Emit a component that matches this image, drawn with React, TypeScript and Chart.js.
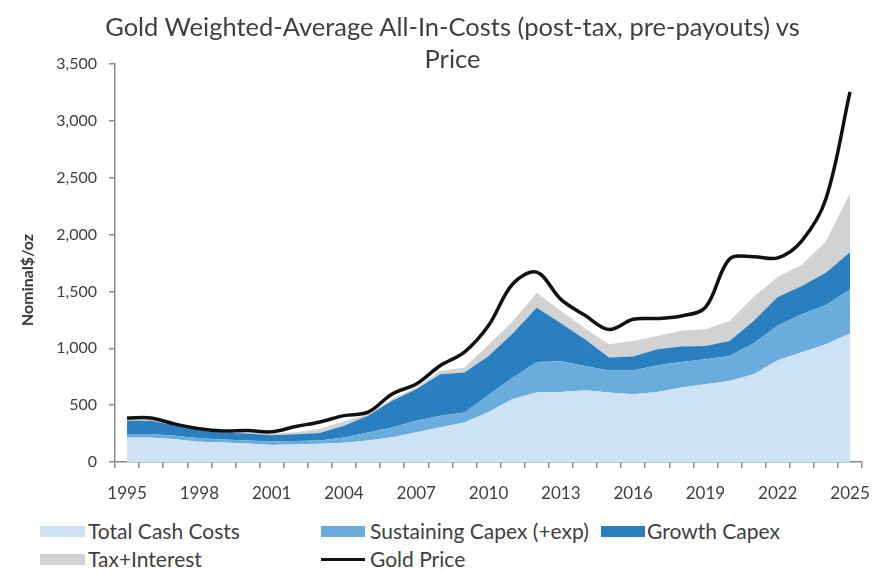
import React, { useEffect, useRef } from "react";
import { Chart, registerables } from "chart.js";

Chart.register(...registerables);

const years = [
  "1995", "1996", "1997", "1998", "1999", "2000", "2001", "2002", "2003", "2004",
  "2005", "2006", "2007", "2008", "2009", "2010", "2011", "2012", "2013", "2014",
  "2015", "2016", "2017", "2018", "2019", "2020", "2021", "2022", "2023", "2024", "2025",
];

const totalCashCosts = [216, 216, 200, 178, 172, 162, 150, 155, 160, 170, 190, 218, 262, 305, 348, 440, 553, 611, 615, 632, 611, 596, 615, 655, 684, 713, 772, 895, 965, 1035, 1130];
const sustainingCapex = [30, 30, 30, 30, 26, 28, 30, 30, 30, 46, 70, 86, 101, 101, 88, 150, 187, 269, 270, 213, 194, 209, 235, 225, 220, 220, 273, 305, 335, 345, 388];
const growthCapex = [117, 117, 90, 70, 60, 60, 56, 60, 65, 103, 146, 234, 277, 366, 351, 343, 390, 477, 335, 234, 113, 123, 141, 135, 116, 131, 195, 250, 247, 284, 327];
const taxInterest = [12, 12, 8, 8, 8, 8, 12, 17, 35, 40, 15, 15, 15, 29, 43, 97, 105, 131, 110, 96, 117, 136, 117, 140, 147, 176, 210, 180, 188, 276, 520];
const goldPrice = [386, 387, 333, 292, 272, 276, 266, 312, 352, 408, 438, 598, 686, 848, 966, 1200, 1565, 1670, 1430, 1290, 1165, 1255, 1262, 1284, 1360, 1785, 1805, 1795, 1945, 2315, 3255];

const seriesLabels = ["Total Cash Costs", "Sustaining Capex (+exp)", "Growth Capex", "Tax+Interest", "Gold Price"];
const seriesColors = ["#cde2f4", "#6aaddc", "#2a7fc1", "#d2d2d2", "#111111"];

const titleLines = ["Gold Weighted-Average All-In-Costs (post-tax, pre-payouts) vs", "Price"];
const yAxisTitle = "Nominal$/oz";
const yMin = 0;
const yMax = 3500;
const yStep = 500;
const xLabelEvery = 3;

const FONT = "Lato, 'Noto Sans', sans-serif";
const TEXT = "#404040";
const AXIS = "#8c8c8c";

export default function App() {
  const ref = useRef<HTMLCanvasElement | null>(null);

  useEffect(() => {
    if (!ref.current) return;
    const area = (idx: number, data: number[], fill: string | boolean) => ({
      label: seriesLabels[idx],
      data,
      backgroundColor: seriesColors[idx],
      borderColor: seriesColors[idx],
      borderWidth: 0,
      pointRadius: 0,
      fill,
      stack: "costs",
      tension: 0,
    });
    const chart = new Chart(ref.current, {
      type: "line",
      data: {
        labels: years,
        datasets: [
          {
            label: seriesLabels[4],
            data: goldPrice,
            borderColor: seriesColors[4],
            backgroundColor: seriesColors[4],
            borderWidth: 3.5,
            pointRadius: 0,
            fill: false,
            stack: "gold",
            tension: 0.35,
          },
          area(0, totalCashCosts, "origin"),
          area(1, sustainingCapex, "-1"),
          area(2, growthCapex, "-1"),
          area(3, taxInterest, "-1"),
        ] as any,
      },
      options: {
        animation: false,
        responsive: false,
        maintainAspectRatio: false,
        layout: { padding: { left: 0, right: 15, top: 64, bottom: 0 } },
        plugins: {
          legend: { display: false },
          tooltip: { enabled: false },
          title: { display: false },
        },
        scales: {
          x: {
            offset: true,
            grid: { display: true, drawOnChartArea: false, drawTicks: true, tickLength: 6, color: AXIS, offset: true, lineWidth: 1.5 },
            border: { display: true, color: AXIS, width: 1.5 },
            ticks: {
              autoSkip: false,
              maxRotation: 0,
              minRotation: 0,
              padding: 15,
              color: TEXT,
              font: { family: FONT, size: 17 },
              callback: (_v: any, i: number) => (i % xLabelEvery === 0 ? years[i] : ""),
            },
            afterFit: (s: any) => {
              s.height = 48;
            },
          },
          y: {
            stacked: true,
            min: yMin,
            max: yMax,
            grid: { display: true, drawOnChartArea: false, drawTicks: true, tickLength: 6, color: AXIS, lineWidth: 1.5 },
            border: { display: true, color: AXIS, width: 1.5 },
            ticks: {
              stepSize: yStep,
              padding: 12,
              color: TEXT,
              font: { family: FONT, size: 16 },
              callback: (v: any) => Number(v).toLocaleString("en-US"),
            },
            title: { display: false },
            afterFit: (s: any) => {
              s.width = 115;
            },
          },
        },
      } as any,
    });
    return () => chart.destroy();
  }, []);

  const legendText: React.CSSProperties = {
    position: "absolute",
    fontFamily: FONT,
    fontSize: 21,
    color: TEXT,
    lineHeight: "24px",
    whiteSpace: "nowrap",
  };
  const box = (left: number, top: number, width: number, color: string, height = 11): React.CSSProperties => ({
    position: "absolute",
    left,
    top,
    width,
    height,
    background: color,
  });

  return (
    <div style={{ position: "fixed", left: 0, top: 0, width: 885, height: 572, background: "#ffffff", overflow: "hidden" }}>
      <canvas ref={ref} width={885} height={510} style={{ position: "absolute", left: 0, top: 0, width: 885, height: 510 }} />
      <div
        style={{
          position: "absolute",
          left: 10,
          top: 10,
          width: 885,
          textAlign: "center",
          fontFamily: FONT,
          fontSize: 25.5,
          lineHeight: "32px",
          color: TEXT,
          whiteSpace: "nowrap",
        }}
      >
        <div>{titleLines[0]}</div>
        <div>{titleLines[1]}</div>
      </div>
      <div
        style={{
          position: "absolute",
          left: 27,
          top: 280,
          transform: "translate(-50%, -50%) rotate(-90deg)",
          fontFamily: FONT,
          fontSize: 16,
          fontWeight: "bold",
          color: "#333333",
          whiteSpace: "nowrap",
          lineHeight: "20px",
        }}
      >
        {yAxisTitle}
      </div>
      <div style={box(40, 526, 45, seriesColors[0])} />
      <div style={{ ...legendText, left: 88, top: 519 }}>{seriesLabels[0]}</div>
      <div style={box(321, 526, 44, seriesColors[1])} />
      <div style={{ ...legendText, left: 370, top: 519 }}>{seriesLabels[1]}</div>
      <div style={box(601, 526, 44, seriesColors[2])} />
      <div style={{ ...legendText, left: 647, top: 519 }}>{seriesLabels[2]}</div>
      <div style={box(40, 554, 45, seriesColors[3])} />
      <div style={{ ...legendText, left: 88, top: 547 }}>{seriesLabels[3]}</div>
      <div style={box(321, 558, 44, seriesColors[4], 3)} />
      <div style={{ ...legendText, left: 370, top: 547 }}>{seriesLabels[4]}</div>
    </div>
  );
}
